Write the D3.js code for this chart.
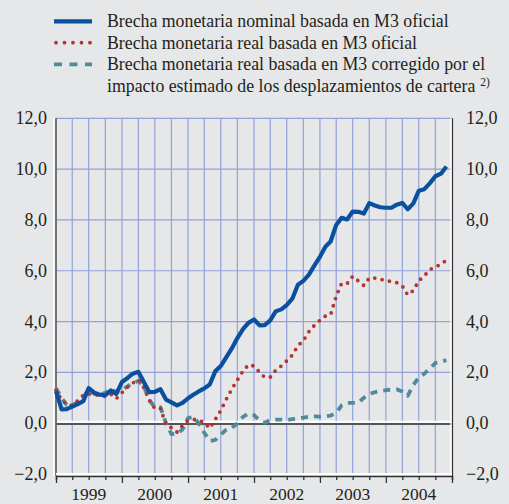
<!DOCTYPE html>
<html>
<head>
<meta charset="utf-8">
<script src="https://cdn.jsdelivr.net/npm/d3@7"></script>
<style>
  html, body { margin: 0; padding: 0; background: #e6e7e9; }
  svg { display: block; }
  text { font-family: "Liberation Serif", "DejaVu Serif", serif; fill: #231f20; }
</style>
</head>
<body>
<div class="chartSection"></div>
<script>
// monthly values, Jan 1999 - Dec 2004
const nominalM3 = [
  1.26, 0.54, 0.55, 0.65, 0.75, 0.87, 1.38, 1.2, 1.12, 1.1, 1.29, 1.15,
  1.62, 1.78, 1.95, 2.02, 1.62, 1.22, 1.23, 1.34, 0.93, 0.82, 0.7, 0.8,
  0.98, 1.13, 1.25, 1.37, 1.52, 2.05, 2.25, 2.6, 2.95, 3.35, 3.7, 3.95,
  4.08, 3.85, 3.86, 4.05, 4.4, 4.48, 4.65, 4.9, 5.45, 5.6, 5.85, 6.2,
  6.55, 6.95, 7.15, 7.8, 8.08, 8.02, 8.33, 8.32, 8.25, 8.66, 8.57, 8.5,
  8.48, 8.48, 8.6, 8.67, 8.42, 8.65, 9.15, 9.21, 9.45, 9.72, 9.82, 10.1
];
const realM3 = [
  1.3, 0.92, 0.75, 0.7, 0.88, 1.1, 1.15, 1.13, 1.08, 1.05, 1.14, 0.97,
  1.2, 1.42, 1.58, 1.72, 1.4, 0.9, 0.58, 0.58, -0.05, -0.18, -0.35, -0.1,
  0.1, 0.15, 0.12, 0.03, -0.2, 0.15, 0.5, 0.95, 1.35, 1.7, 2.05, 2.3,
  2.25, 2.0, 1.81, 1.81, 2.08, 2.25, 2.45, 2.68, 3.05, 3.25, 3.6, 3.85,
  4.05, 4.22, 4.27, 5.0, 5.5, 5.5, 5.78, 5.6, 5.42, 5.71, 5.71, 5.66,
  5.62, 5.57, 5.53, 5.4, 5.05, 5.22, 5.6, 5.8, 6.05, 6.15, 6.25, 6.42
];
const realM3Corrected = [
  1.38, 1.0, 0.72, 0.72, 0.82, 0.98, 1.37, 1.15, 1.12, 1.2, 1.35, 1.22,
  1.3, 1.45, 1.58, 1.66, 1.45, 0.9, 0.63, 0.63, 0.0, -0.43, -0.42, -0.25,
  0.2, 0.24, 0.0, -0.38, -0.7, -0.66, -0.45, -0.25, -0.18, 0.0, 0.25, 0.38,
  0.32, 0.1, 0.02, 0.12, 0.14, 0.14, 0.12, 0.16, 0.2, 0.22, 0.25, 0.27,
  0.26, 0.27, 0.3, 0.4, 0.7, 0.8, 0.8, 0.8, 1.0, 1.15, 1.22, 1.27,
  1.3, 1.32, 1.33, 1.25, 1.08, 1.5, 1.8, 1.95, 2.15, 2.37, 2.42, 2.48
];
const yTicks = [-2, 0, 2, 4, 6, 8, 10, 12];
const years = [1999, 2000, 2001, 2002, 2003, 2004];
const legendLabels = [
  ["Brecha monetaria nominal basada en M3 oficial"],
  ["Brecha monetaria real basada en M3 oficial"],
  ["Brecha monetaria real basada en M3 corregido por el",
   "impacto estimado de los desplazamientos de cartera"]
];

const months = d3.timeMonth.range(new Date(1999, 0, 1), new Date(2005, 0, 1));
const series = [
  { values: nominalM3, color: "#0b509e", width: 4.2, dash: null, cap: "butt" },
  { values: realM3, color: "#b5342d", width: 3.8, dash: "0 7.5", cap: "round" },
  { values: realM3Corrected, color: "#4e8c9b", width: 3.8, dash: "7 6", cap: "butt" }
];

const svgWidth = 509, svgHeight = 504;
const svg = d3.select(".chartSection").append("svg")
  .attr("width", svgWidth)
  .attr("height", svgHeight);

svg.append("rect").attr("width", svgWidth).attr("height", svgHeight).attr("fill", "#e6e7e9");

const xScale = d3.scaleTime()
  .domain([new Date(1999, 0, 1), new Date(2005, 0, 1)])
  .range([56, 452]);
const yScale = d3.scaleLinear().domain([-2, 12]).range([474, 118.3]);

const plotLeft = xScale.range()[0], plotRight = xScale.range()[1];
const plotTop = yScale(12), plotBottom = yScale(-2);

// grid
const grid = svg.append("g").attr("stroke", "#93a1d8").attr("stroke-width", 1.2);
grid.selectAll(".vgrid")
  .data(d3.timeMonth.every(3).range(new Date(1999, 3, 1), new Date(2005, 0, 1)))
  .enter().append("line")
  .attr("x1", d => xScale(d)).attr("x2", d => xScale(d))
  .attr("y1", plotTop).attr("y2", plotBottom);
grid.selectAll(".hgrid")
  .data(yTicks.filter(d => d !== 0 && d !== -2))
  .enter().append("line")
  .attr("x1", plotLeft).attr("x2", plotRight)
  .attr("y1", d => yScale(d)).attr("y2", d => yScale(d));

// zero line
svg.append("line").attr("x1", plotLeft).attr("x2", plotRight)
  .attr("y1", yScale(0) - 1.5).attr("y2", yScale(0) - 1.5)
  .attr("stroke", "#ffffff").attr("stroke-width", 2);
svg.append("line").attr("x1", plotLeft).attr("x2", plotRight)
  .attr("y1", yScale(0) + 0.8).attr("y2", yScale(0) + 0.8)
  .attr("stroke", "#555555").attr("stroke-width", 1.8);

// left / right axis lines
svg.append("line").attr("x1", plotLeft - 2).attr("x2", plotLeft - 2)
  .attr("y1", plotTop).attr("y2", plotBottom + 2)
  .attr("stroke", "#ffffff").attr("stroke-width", 1.5);
svg.append("line").attr("x1", plotLeft).attr("x2", plotLeft)
  .attr("y1", plotTop).attr("y2", plotBottom + 2)
  .attr("stroke", "#666666").attr("stroke-width", 1.8);
svg.append("line").attr("x1", plotRight - 1).attr("x2", plotRight - 1)
  .attr("y1", plotTop).attr("y2", plotBottom + 2)
  .attr("stroke", "#ffffff").attr("stroke-width", 1.5);
svg.append("line").attr("x1", plotRight + 0.5).attr("x2", plotRight + 0.5)
  .attr("y1", plotTop).attr("y2", plotBottom + 2)
  .attr("stroke", "#333333").attr("stroke-width", 1.2);

// bottom axis
svg.append("line").attr("x1", plotLeft).attr("x2", plotRight)
  .attr("y1", plotBottom).attr("y2", plotBottom)
  .attr("stroke", "#ffffff").attr("stroke-width", 2);
const xAxis = d3.axisBottom(xScale)
  .ticks(d3.timeMonth.every(3))
  .tickSize(4)
  .tickFormat("");
const xg = svg.append("g")
  .attr("transform", `translate(0, ${plotBottom + 2})`)
  .call(xAxis);
xg.select(".domain").attr("stroke", "#333333").attr("stroke-width", 1.5);
xg.selectAll(".tick line").attr("stroke", "#333333").attr("stroke-width", 1.3)
  .attr("y2", d => d.getMonth() === 0 ? 7 : 4);

svg.selectAll(".year-label")
  .data(years)
  .enter().append("text")
  .attr("x", d => xScale(new Date(d, 6, 1)))
  .attr("y", 500)
  .attr("text-anchor", "middle")
  .attr("font-size", "17.5px")
  .text(d => d);

// y tick labels both sides
const fmt = d => d3.format(".1f")(d).replace(".", ",");
svg.selectAll(".ylab-left")
  .data(yTicks)
  .enter().append("text")
  .attr("x", 47)
  .attr("y", d => yScale(d) + 6)
  .attr("text-anchor", "end")
  .attr("font-size", "18px")
  .text(fmt);
svg.selectAll(".ylab-right")
  .data(yTicks)
  .enter().append("text")
  .attr("x", 466)
  .attr("y", d => yScale(d) + 6)
  .attr("text-anchor", "start")
  .attr("font-size", "18px")
  .text(fmt);

// lines
const line = d3.line()
  .x((d, i) => xScale(months[i]))
  .y(d => yScale(d));

series.slice().reverse().forEach(s => {
  svg.append("path")
    .datum(s.values)
    .attr("d", line)
    .attr("fill", "none")
    .attr("stroke", s.color)
    .attr("stroke-width", s.width)
    .attr("stroke-linejoin", "round")
    .attr("stroke-linecap", s.cap)
    .attr("stroke-dasharray", s.dash);
});

// legend
const legendRows = [21.3, 42.7, 64.3];
const legend = svg.append("g");
series.forEach((s, i) => {
  legend.append("line")
    .attr("x1", s.cap === "round" ? 56 : 54).attr("x2", 92)
    .attr("y1", legendRows[i]).attr("y2", legendRows[i])
    .attr("stroke", s.color)
    .attr("stroke-width", s.width)
    .attr("stroke-linecap", s.cap)
    .attr("stroke-dasharray", s.cap === "round" ? "0 8.5" : (s.dash ? "8 7.5" : null));
  legendLabels[i].forEach((t, j) => {
    const txt = legend.append("text")
      .attr("x", 107)
      .attr("y", legendRows[i] + 6 + j * 21.7)
      .attr("font-size", "17.8px")
      .attr("fill", "#231f20")
      .text(t);
    if (i === 2 && j === 1) {
      txt.append("tspan").attr("dx", 5).attr("dy", -6).attr("font-size", "11.5px").text("2)");
    }
  });
});
</script>
</body>
</html>
